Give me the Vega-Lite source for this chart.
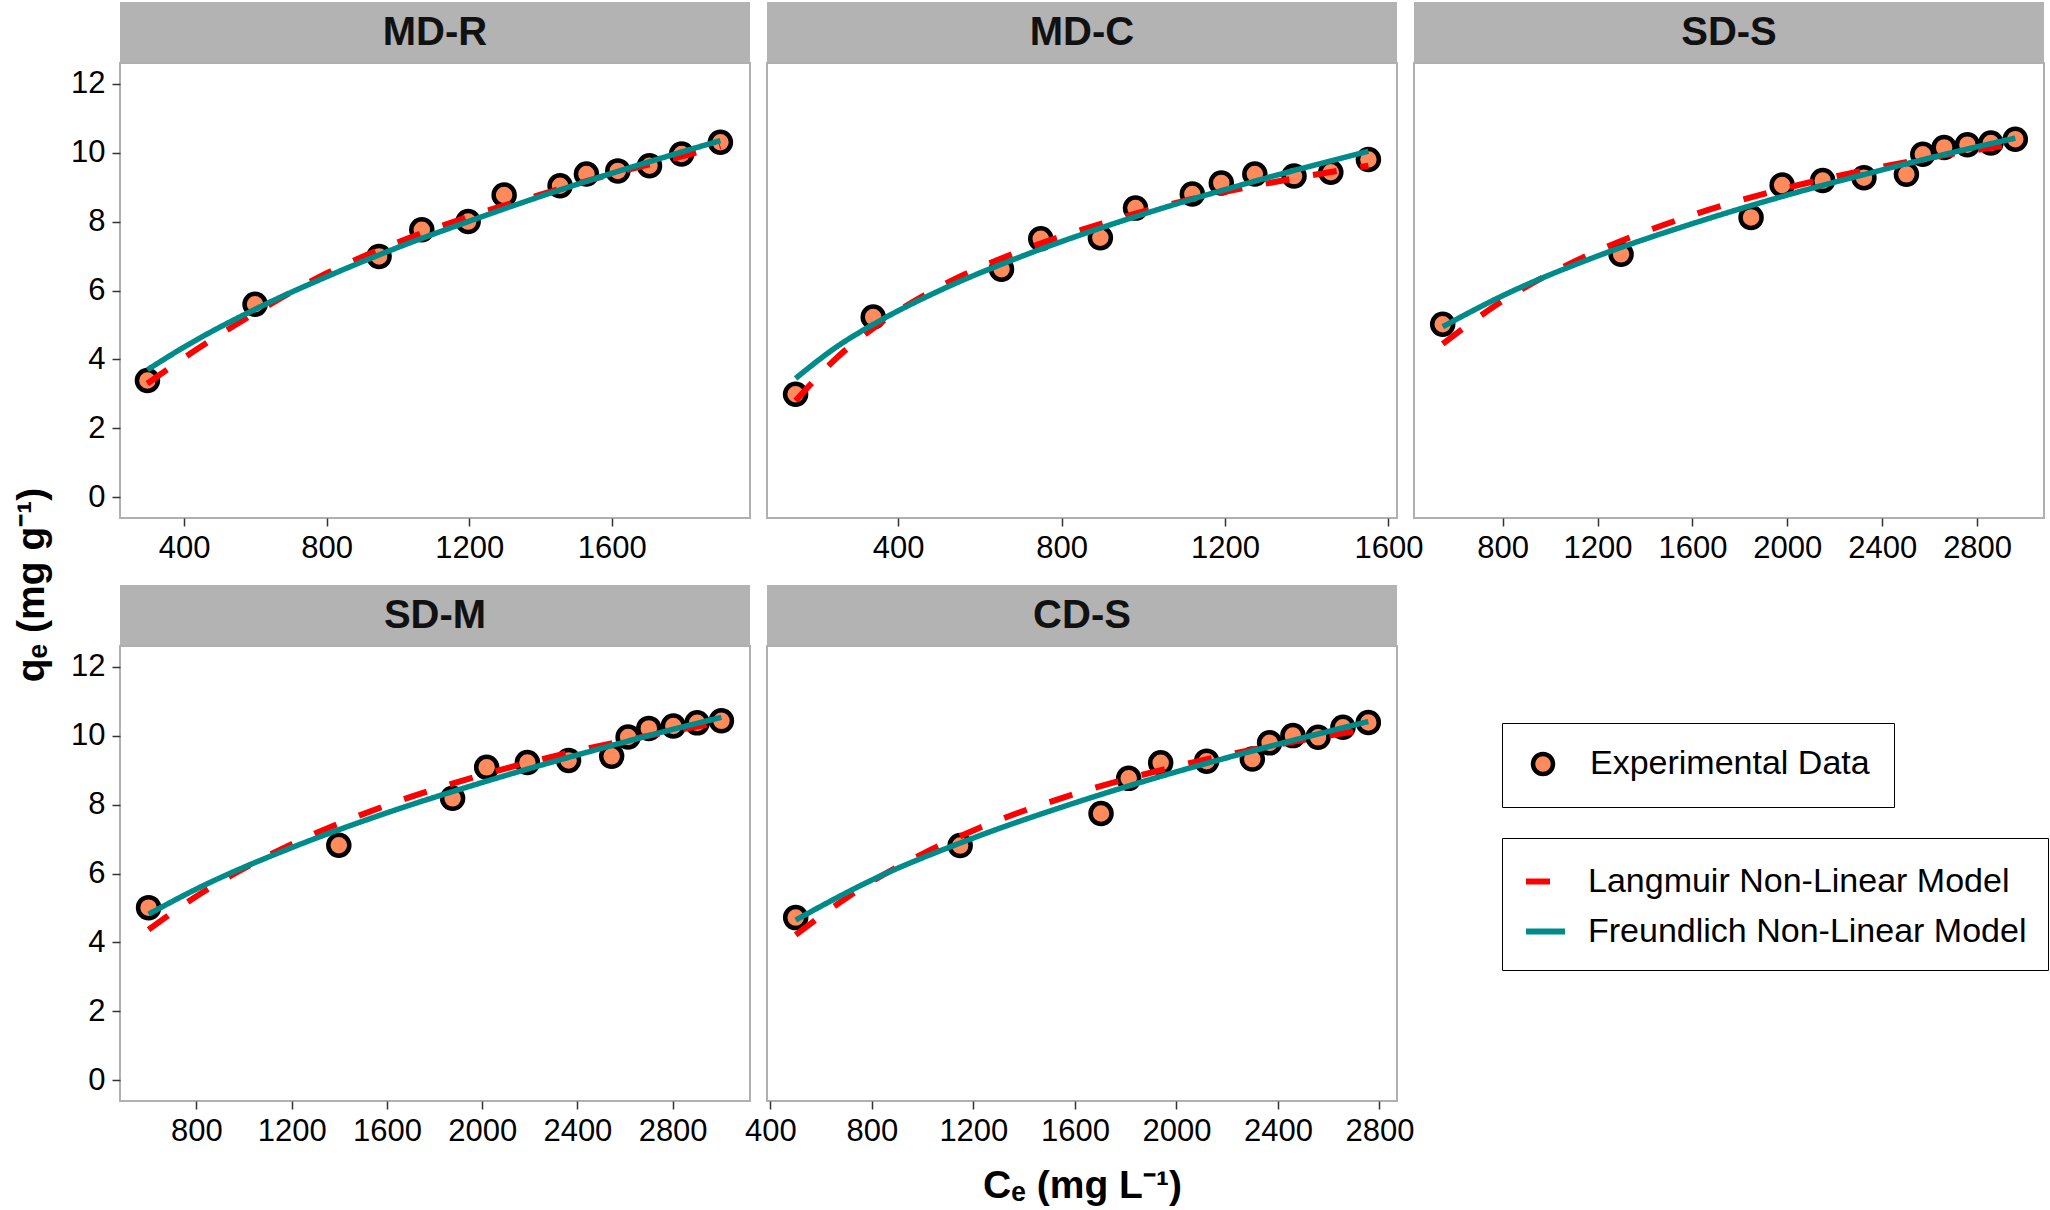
{
  "$schema": "https://vega.github.io/schema/vega-lite/v6.json",
  "background": "white",
  "padding": {"left": 12, "top": 2, "right": 2, "bottom": 4},
  "title": {"text": "qₑ (mg g⁻¹)", "orient": "left", "anchor": "middle", "fontSize": 39, "fontWeight": "bold", "offset": 18, "dx": 19, "color": "black"},
  "datasets": {
    "strips": [{"panel": "MD-R"}, {"panel": "MD-C"}, {"panel": "SD-S"}, {"panel": "SD-M"}, {"panel": "CD-S"}],
    "pts": [
      {"panel": "MD-R", "series": "Experimental Data", "Ce": 297, "qe": 3.39},
      {"panel": "MD-R", "series": "Experimental Data", "Ce": 599, "qe": 5.60},
      {"panel": "MD-R", "series": "Experimental Data", "Ce": 947, "qe": 6.99},
      {"panel": "MD-R", "series": "Experimental Data", "Ce": 1067, "qe": 7.76},
      {"panel": "MD-R", "series": "Experimental Data", "Ce": 1197, "qe": 8.00},
      {"panel": "MD-R", "series": "Experimental Data", "Ce": 1298, "qe": 8.77},
      {"panel": "MD-R", "series": "Experimental Data", "Ce": 1455, "qe": 9.04},
      {"panel": "MD-R", "series": "Experimental Data", "Ce": 1529, "qe": 9.38},
      {"panel": "MD-R", "series": "Experimental Data", "Ce": 1617, "qe": 9.47},
      {"panel": "MD-R", "series": "Experimental Data", "Ce": 1706, "qe": 9.62},
      {"panel": "MD-R", "series": "Experimental Data", "Ce": 1796, "qe": 9.96},
      {"panel": "MD-R", "series": "Experimental Data", "Ce": 1905, "qe": 10.30},
      {"panel": "MD-C", "series": "Experimental Data", "Ce": 149, "qe": 2.99},
      {"panel": "MD-C", "series": "Experimental Data", "Ce": 339, "qe": 5.23},
      {"panel": "MD-C", "series": "Experimental Data", "Ce": 653, "qe": 6.62},
      {"panel": "MD-C", "series": "Experimental Data", "Ce": 749, "qe": 7.50},
      {"panel": "MD-C", "series": "Experimental Data", "Ce": 895, "qe": 7.53},
      {"panel": "MD-C", "series": "Experimental Data", "Ce": 981, "qe": 8.39},
      {"panel": "MD-C", "series": "Experimental Data", "Ce": 1120, "qe": 8.80},
      {"panel": "MD-C", "series": "Experimental Data", "Ce": 1191, "qe": 9.12},
      {"panel": "MD-C", "series": "Experimental Data", "Ce": 1273, "qe": 9.38},
      {"panel": "MD-C", "series": "Experimental Data", "Ce": 1369, "qe": 9.32},
      {"panel": "MD-C", "series": "Experimental Data", "Ce": 1459, "qe": 9.43},
      {"panel": "MD-C", "series": "Experimental Data", "Ce": 1551, "qe": 9.80},
      {"panel": "SD-S", "series": "Experimental Data", "Ce": 547, "qe": 5.02},
      {"panel": "SD-S", "series": "Experimental Data", "Ce": 1299, "qe": 7.05},
      {"panel": "SD-S", "series": "Experimental Data", "Ce": 1847, "qe": 8.12},
      {"panel": "SD-S", "series": "Experimental Data", "Ce": 1978, "qe": 9.06},
      {"panel": "SD-S", "series": "Experimental Data", "Ce": 2149, "qe": 9.19},
      {"panel": "SD-S", "series": "Experimental Data", "Ce": 2323, "qe": 9.27},
      {"panel": "SD-S", "series": "Experimental Data", "Ce": 2502, "qe": 9.37},
      {"panel": "SD-S", "series": "Experimental Data", "Ce": 2571, "qe": 9.95},
      {"panel": "SD-S", "series": "Experimental Data", "Ce": 2661, "qe": 10.15},
      {"panel": "SD-S", "series": "Experimental Data", "Ce": 2759, "qe": 10.23},
      {"panel": "SD-S", "series": "Experimental Data", "Ce": 2858, "qe": 10.28},
      {"panel": "SD-S", "series": "Experimental Data", "Ce": 2961, "qe": 10.39},
      {"panel": "SD-M", "series": "Experimental Data", "Ce": 599, "qe": 5.01},
      {"panel": "SD-M", "series": "Experimental Data", "Ce": 1398, "qe": 6.82},
      {"panel": "SD-M", "series": "Experimental Data", "Ce": 1876, "qe": 8.18},
      {"panel": "SD-M", "series": "Experimental Data", "Ce": 2019, "qe": 9.08},
      {"panel": "SD-M", "series": "Experimental Data", "Ce": 2190, "qe": 9.22},
      {"panel": "SD-M", "series": "Experimental Data", "Ce": 2363, "qe": 9.28},
      {"panel": "SD-M", "series": "Experimental Data", "Ce": 2544, "qe": 9.40},
      {"panel": "SD-M", "series": "Experimental Data", "Ce": 2613, "qe": 9.96},
      {"panel": "SD-M", "series": "Experimental Data", "Ce": 2700, "qe": 10.21},
      {"panel": "SD-M", "series": "Experimental Data", "Ce": 2803, "qe": 10.28},
      {"panel": "SD-M", "series": "Experimental Data", "Ce": 2903, "qe": 10.37},
      {"panel": "SD-M", "series": "Experimental Data", "Ce": 3005, "qe": 10.43},
      {"panel": "CD-S", "series": "Experimental Data", "Ce": 500, "qe": 4.72},
      {"panel": "CD-S", "series": "Experimental Data", "Ce": 1148, "qe": 6.81},
      {"panel": "CD-S", "series": "Experimental Data", "Ce": 1703, "qe": 7.74},
      {"panel": "CD-S", "series": "Experimental Data", "Ce": 1812, "qe": 8.76},
      {"panel": "CD-S", "series": "Experimental Data", "Ce": 1938, "qe": 9.21},
      {"panel": "CD-S", "series": "Experimental Data", "Ce": 2119, "qe": 9.26},
      {"panel": "CD-S", "series": "Experimental Data", "Ce": 2299, "qe": 9.32},
      {"panel": "CD-S", "series": "Experimental Data", "Ce": 2367, "qe": 9.79},
      {"panel": "CD-S", "series": "Experimental Data", "Ce": 2459, "qe": 10.00},
      {"panel": "CD-S", "series": "Experimental Data", "Ce": 2558, "qe": 9.95},
      {"panel": "CD-S", "series": "Experimental Data", "Ce": 2656, "qe": 10.24},
      {"panel": "CD-S", "series": "Experimental Data", "Ce": 2756, "qe": 10.38}
    ],
    "fits": [
      {"panel": "MD-R", "model": "Langmuir Non-Linear Model", "Ce": 297, "qe": 3.30},
      {"panel": "MD-R", "model": "Langmuir Non-Linear Model", "Ce": 400, "qe": 4.05},
      {"panel": "MD-R", "model": "Langmuir Non-Linear Model", "Ce": 600, "qe": 5.35},
      {"panel": "MD-R", "model": "Langmuir Non-Linear Model", "Ce": 800, "qe": 6.50},
      {"panel": "MD-R", "model": "Langmuir Non-Linear Model", "Ce": 1000, "qe": 7.40},
      {"panel": "MD-R", "model": "Langmuir Non-Linear Model", "Ce": 1200, "qe": 8.15},
      {"panel": "MD-R", "model": "Langmuir Non-Linear Model", "Ce": 1400, "qe": 8.78},
      {"panel": "MD-R", "model": "Langmuir Non-Linear Model", "Ce": 1600, "qe": 9.38},
      {"panel": "MD-R", "model": "Langmuir Non-Linear Model", "Ce": 1800, "qe": 9.90},
      {"panel": "MD-R", "model": "Langmuir Non-Linear Model", "Ce": 1905, "qe": 10.18},
      {"panel": "MD-R", "model": "Freundlich Non-Linear Model", "Ce": 297, "qe": 3.70},
      {"panel": "MD-R", "model": "Freundlich Non-Linear Model", "Ce": 400, "qe": 4.36},
      {"panel": "MD-R", "model": "Freundlich Non-Linear Model", "Ce": 600, "qe": 5.46},
      {"panel": "MD-R", "model": "Freundlich Non-Linear Model", "Ce": 800, "qe": 6.40},
      {"panel": "MD-R", "model": "Freundlich Non-Linear Model", "Ce": 1000, "qe": 7.25},
      {"panel": "MD-R", "model": "Freundlich Non-Linear Model", "Ce": 1200, "qe": 8.01},
      {"panel": "MD-R", "model": "Freundlich Non-Linear Model", "Ce": 1400, "qe": 8.73},
      {"panel": "MD-R", "model": "Freundlich Non-Linear Model", "Ce": 1600, "qe": 9.40},
      {"panel": "MD-R", "model": "Freundlich Non-Linear Model", "Ce": 1800, "qe": 10.03},
      {"panel": "MD-R", "model": "Freundlich Non-Linear Model", "Ce": 1905, "qe": 10.35},
      {"panel": "MD-C", "model": "Langmuir Non-Linear Model", "Ce": 149, "qe": 2.80},
      {"panel": "MD-C", "model": "Langmuir Non-Linear Model", "Ce": 250, "qe": 4.05},
      {"panel": "MD-C", "model": "Langmuir Non-Linear Model", "Ce": 350, "qe": 5.00},
      {"panel": "MD-C", "model": "Langmuir Non-Linear Model", "Ce": 500, "qe": 6.10},
      {"panel": "MD-C", "model": "Langmuir Non-Linear Model", "Ce": 700, "qe": 7.15},
      {"panel": "MD-C", "model": "Langmuir Non-Linear Model", "Ce": 900, "qe": 7.95},
      {"panel": "MD-C", "model": "Langmuir Non-Linear Model", "Ce": 1100, "qe": 8.60},
      {"panel": "MD-C", "model": "Langmuir Non-Linear Model", "Ce": 1300, "qe": 9.10},
      {"panel": "MD-C", "model": "Langmuir Non-Linear Model", "Ce": 1551, "qe": 9.62},
      {"panel": "MD-C", "model": "Freundlich Non-Linear Model", "Ce": 149, "qe": 3.45},
      {"panel": "MD-C", "model": "Freundlich Non-Linear Model", "Ce": 250, "qe": 4.37},
      {"panel": "MD-C", "model": "Freundlich Non-Linear Model", "Ce": 350, "qe": 5.09},
      {"panel": "MD-C", "model": "Freundlich Non-Linear Model", "Ce": 500, "qe": 5.99},
      {"panel": "MD-C", "model": "Freundlich Non-Linear Model", "Ce": 700, "qe": 6.98},
      {"panel": "MD-C", "model": "Freundlich Non-Linear Model", "Ce": 900, "qe": 7.83},
      {"panel": "MD-C", "model": "Freundlich Non-Linear Model", "Ce": 1100, "qe": 8.58},
      {"panel": "MD-C", "model": "Freundlich Non-Linear Model", "Ce": 1300, "qe": 9.26},
      {"panel": "MD-C", "model": "Freundlich Non-Linear Model", "Ce": 1551, "qe": 10.04},
      {"panel": "SD-S", "model": "Langmuir Non-Linear Model", "Ce": 547, "qe": 4.45},
      {"panel": "SD-S", "model": "Langmuir Non-Linear Model", "Ce": 800, "qe": 5.70},
      {"panel": "SD-S", "model": "Langmuir Non-Linear Model", "Ce": 1000, "qe": 6.49},
      {"panel": "SD-S", "model": "Langmuir Non-Linear Model", "Ce": 1200, "qe": 7.15},
      {"panel": "SD-S", "model": "Langmuir Non-Linear Model", "Ce": 1600, "qe": 8.19},
      {"panel": "SD-S", "model": "Langmuir Non-Linear Model", "Ce": 2000, "qe": 8.98},
      {"panel": "SD-S", "model": "Langmuir Non-Linear Model", "Ce": 2400, "qe": 9.59},
      {"panel": "SD-S", "model": "Langmuir Non-Linear Model", "Ce": 2800, "qe": 10.08},
      {"panel": "SD-S", "model": "Langmuir Non-Linear Model", "Ce": 2961, "qe": 10.25},
      {"panel": "SD-S", "model": "Freundlich Non-Linear Model", "Ce": 547, "qe": 4.95},
      {"panel": "SD-S", "model": "Freundlich Non-Linear Model", "Ce": 800, "qe": 5.85},
      {"panel": "SD-S", "model": "Freundlich Non-Linear Model", "Ce": 1200, "qe": 7.00},
      {"panel": "SD-S", "model": "Freundlich Non-Linear Model", "Ce": 1600, "qe": 7.94},
      {"panel": "SD-S", "model": "Freundlich Non-Linear Model", "Ce": 2000, "qe": 8.77},
      {"panel": "SD-S", "model": "Freundlich Non-Linear Model", "Ce": 2400, "qe": 9.50},
      {"panel": "SD-S", "model": "Freundlich Non-Linear Model", "Ce": 2800, "qe": 10.17},
      {"panel": "SD-S", "model": "Freundlich Non-Linear Model", "Ce": 2961, "qe": 10.42},
      {"panel": "SD-M", "model": "Langmuir Non-Linear Model", "Ce": 599, "qe": 4.37},
      {"panel": "SD-M", "model": "Langmuir Non-Linear Model", "Ce": 800, "qe": 5.34},
      {"panel": "SD-M", "model": "Langmuir Non-Linear Model", "Ce": 1000, "qe": 6.15},
      {"panel": "SD-M", "model": "Langmuir Non-Linear Model", "Ce": 1200, "qe": 6.85},
      {"panel": "SD-M", "model": "Langmuir Non-Linear Model", "Ce": 1600, "qe": 7.98},
      {"panel": "SD-M", "model": "Langmuir Non-Linear Model", "Ce": 2000, "qe": 8.86},
      {"panel": "SD-M", "model": "Langmuir Non-Linear Model", "Ce": 2400, "qe": 9.56},
      {"panel": "SD-M", "model": "Langmuir Non-Linear Model", "Ce": 2800, "qe": 10.13},
      {"panel": "SD-M", "model": "Langmuir Non-Linear Model", "Ce": 3005, "qe": 10.39},
      {"panel": "SD-M", "model": "Freundlich Non-Linear Model", "Ce": 599, "qe": 4.82},
      {"panel": "SD-M", "model": "Freundlich Non-Linear Model", "Ce": 800, "qe": 5.55},
      {"panel": "SD-M", "model": "Freundlich Non-Linear Model", "Ce": 1200, "qe": 6.75},
      {"panel": "SD-M", "model": "Freundlich Non-Linear Model", "Ce": 1600, "qe": 7.76},
      {"panel": "SD-M", "model": "Freundlich Non-Linear Model", "Ce": 2000, "qe": 8.64},
      {"panel": "SD-M", "model": "Freundlich Non-Linear Model", "Ce": 2400, "qe": 9.44},
      {"panel": "SD-M", "model": "Freundlich Non-Linear Model", "Ce": 2800, "qe": 10.18},
      {"panel": "SD-M", "model": "Freundlich Non-Linear Model", "Ce": 3005, "qe": 10.53},
      {"panel": "CD-S", "model": "Langmuir Non-Linear Model", "Ce": 500, "qe": 4.22},
      {"panel": "CD-S", "model": "Langmuir Non-Linear Model", "Ce": 800, "qe": 5.77},
      {"panel": "CD-S", "model": "Langmuir Non-Linear Model", "Ce": 1000, "qe": 6.57},
      {"panel": "CD-S", "model": "Langmuir Non-Linear Model", "Ce": 1200, "qe": 7.25},
      {"panel": "CD-S", "model": "Langmuir Non-Linear Model", "Ce": 1600, "qe": 8.31},
      {"panel": "CD-S", "model": "Langmuir Non-Linear Model", "Ce": 2000, "qe": 9.11},
      {"panel": "CD-S", "model": "Langmuir Non-Linear Model", "Ce": 2400, "qe": 9.74},
      {"panel": "CD-S", "model": "Langmuir Non-Linear Model", "Ce": 2756, "qe": 10.19},
      {"panel": "CD-S", "model": "Freundlich Non-Linear Model", "Ce": 500, "qe": 4.65},
      {"panel": "CD-S", "model": "Freundlich Non-Linear Model", "Ce": 800, "qe": 5.81},
      {"panel": "CD-S", "model": "Freundlich Non-Linear Model", "Ce": 1200, "qe": 7.03},
      {"panel": "CD-S", "model": "Freundlich Non-Linear Model", "Ce": 1600, "qe": 8.05},
      {"panel": "CD-S", "model": "Freundlich Non-Linear Model", "Ce": 2000, "qe": 8.95},
      {"panel": "CD-S", "model": "Freundlich Non-Linear Model", "Ce": 2400, "qe": 9.75},
      {"panel": "CD-S", "model": "Freundlich Non-Linear Model", "Ce": 2756, "qe": 10.41}
    ]
  },
  "columns": 3,
  "spacing": {"row": 0, "column": 17},
  "bounds": "flush",
  "concat": [
    {"width": 630, "height": 61, "view": {"fill": "#B3B3B3", "stroke": null}, "data": {"name": "strips"}, "transform": [{"filter": "datum.panel === 'MD-R'"}], "mark": {"type": "text", "fontSize": 40, "fontWeight": "bold", "color": "#111111"}, "encoding": {"text": {"field": "panel"}}},
    {"width": 630, "height": 61, "view": {"fill": "#B3B3B3", "stroke": null}, "data": {"name": "strips"}, "transform": [{"filter": "datum.panel === 'MD-C'"}], "mark": {"type": "text", "fontSize": 40, "fontWeight": "bold", "color": "#111111"}, "encoding": {"text": {"field": "panel"}}},
    {"width": 630, "height": 61, "view": {"fill": "#B3B3B3", "stroke": null}, "data": {"name": "strips"}, "transform": [{"filter": "datum.panel === 'SD-S'"}], "mark": {"type": "text", "fontSize": 40, "fontWeight": "bold", "color": "#111111"}, "encoding": {"text": {"field": "panel"}}},
    {
      "width": 630, "height": 455, "view": {"stroke": "#B0B0B0", "strokeWidth": 2},
      "encoding": {
        "x": {"field": "Ce", "type": "quantitative", "scale": {"domain": [220, 1988], "nice": false, "zero": false}, "axis": {"values": [400, 800, 1200, 1600], "format": "d", "title": null}},
        "y": {"field": "qe", "type": "quantitative", "scale": {"domain": [-0.6, 12.6], "nice": false, "zero": false}, "axis": {"values": [0, 2, 4, 6, 8, 10, 12], "title": null}}
      },
      "layer": [
        {"data": {"name": "pts"}, "transform": [{"filter": "datum.panel === 'MD-R'"}], "mark": {"type": "point", "filled": true, "size": 441, "stroke": "black", "strokeWidth": 4.5, "opacity": 1}, "encoding": {"fill": {"field": "series", "type": "nominal", "scale": {"domain": ["Experimental Data"], "range": ["#FF8A5C"]}, "legend": {"orient": "none", "legendX": 1382, "legendY": 721, "title": null, "symbolType": "circle", "symbolSize": 400, "symbolStrokeColor": "black", "symbolStrokeWidth": 4.5, "labelFontSize": 34, "labelOffset": 30, "padding": 24, "strokeColor": "black", "labelColor": "black"}}}},
        {"data": {"name": "fits"}, "transform": [{"filter": "datum.panel === 'MD-R' && datum.model === 'Langmuir Non-Linear Model'"}], "mark": {"type": "line", "strokeWidth": 6, "interpolate": "monotone"}, "encoding": {"color": {"field": "model", "type": "nominal", "scale": {"domain": ["Langmuir Non-Linear Model", "Freundlich Non-Linear Model"], "range": ["#FF0000", "#008B8B"]}, "legend": {"orient": "none", "legendX": 1382, "legendY": 836, "title": null, "symbolType": "stroke", "symbolSize": 1521, "symbolStrokeWidth": 6, "labelFontSize": 34, "labelOffset": 20, "padding": 21, "rowPadding": 10, "strokeColor": "black", "labelColor": "black"}}, "strokeDash": {"field": "model", "type": "nominal", "scale": {"domain": ["Langmuir Non-Linear Model", "Freundlich Non-Linear Model"], "range": [[24, 24], [1, 0]]}, "legend": {"orient": "none", "legendX": 1382, "legendY": 836, "title": null, "symbolType": "stroke", "symbolSize": 1521, "symbolStrokeWidth": 6, "labelFontSize": 34, "labelOffset": 20, "padding": 21, "rowPadding": 10, "strokeColor": "black", "labelColor": "black"}}}},
        {"data": {"name": "fits"}, "transform": [{"filter": "datum.panel === 'MD-R' && datum.model === 'Freundlich Non-Linear Model'"}], "mark": {"type": "line", "strokeWidth": 5.5, "interpolate": "monotone"}, "encoding": {"color": {"field": "model", "type": "nominal"}, "strokeDash": {"field": "model", "type": "nominal"}}}
      ]
    },
    {
      "width": 630, "height": 455, "view": {"stroke": "#B0B0B0", "strokeWidth": 2},
      "encoding": {
        "x": {"field": "Ce", "type": "quantitative", "scale": {"domain": [79, 1621], "nice": false, "zero": false}, "axis": {"values": [400, 800, 1200, 1600], "format": "d", "title": null}},
        "y": {"field": "qe", "type": "quantitative", "scale": {"domain": [-0.6, 12.6], "nice": false, "zero": false}, "axis": null}
      },
      "layer": [
        {"data": {"name": "pts"}, "transform": [{"filter": "datum.panel === 'MD-C'"}], "mark": {"type": "point", "filled": true, "size": 441, "stroke": "black", "strokeWidth": 4.5, "opacity": 1}, "encoding": {"fill": {"field": "series", "type": "nominal"}}},
        {"data": {"name": "fits"}, "transform": [{"filter": "datum.panel === 'MD-C' && datum.model === 'Langmuir Non-Linear Model'"}], "mark": {"type": "line", "strokeWidth": 6, "interpolate": "monotone"}, "encoding": {"color": {"field": "model", "type": "nominal"}, "strokeDash": {"field": "model", "type": "nominal"}}},
        {"data": {"name": "fits"}, "transform": [{"filter": "datum.panel === 'MD-C' && datum.model === 'Freundlich Non-Linear Model'"}], "mark": {"type": "line", "strokeWidth": 5.5, "interpolate": "monotone"}, "encoding": {"color": {"field": "model", "type": "nominal"}, "strokeDash": {"field": "model", "type": "nominal"}}}
      ]
    },
    {
      "width": 630, "height": 455, "view": {"stroke": "#B0B0B0", "strokeWidth": 2},
      "encoding": {
        "x": {"field": "Ce", "type": "quantitative", "scale": {"domain": [426, 3082], "nice": false, "zero": false}, "axis": {"values": [800, 1200, 1600, 2000, 2400, 2800], "format": "d", "title": null}},
        "y": {"field": "qe", "type": "quantitative", "scale": {"domain": [-0.6, 12.6], "nice": false, "zero": false}, "axis": null}
      },
      "layer": [
        {"data": {"name": "pts"}, "transform": [{"filter": "datum.panel === 'SD-S'"}], "mark": {"type": "point", "filled": true, "size": 441, "stroke": "black", "strokeWidth": 4.5, "opacity": 1}, "encoding": {"fill": {"field": "series", "type": "nominal"}}},
        {"data": {"name": "fits"}, "transform": [{"filter": "datum.panel === 'SD-S' && datum.model === 'Langmuir Non-Linear Model'"}], "mark": {"type": "line", "strokeWidth": 6, "interpolate": "monotone"}, "encoding": {"color": {"field": "model", "type": "nominal"}, "strokeDash": {"field": "model", "type": "nominal"}}},
        {"data": {"name": "fits"}, "transform": [{"filter": "datum.panel === 'SD-S' && datum.model === 'Freundlich Non-Linear Model'"}], "mark": {"type": "line", "strokeWidth": 5.5, "interpolate": "monotone"}, "encoding": {"color": {"field": "model", "type": "nominal"}, "strokeDash": {"field": "model", "type": "nominal"}}}
      ]
    },
    {"width": 630, "height": 67, "view": {"stroke": null}, "data": {"values": [{}]}, "mark": {"type": "text", "text": " "}, "encoding": {}},
    {"width": 630, "height": 67, "view": {"stroke": null}, "data": {"values": [{}]}, "mark": {"type": "text", "text": " "}, "encoding": {}},
    {"width": 630, "height": 67, "view": {"stroke": null}, "data": {"values": [{}]}, "mark": {"type": "text", "text": " "}, "encoding": {}},
    {"width": 630, "height": 61, "view": {"fill": "#B3B3B3", "stroke": null}, "data": {"name": "strips"}, "transform": [{"filter": "datum.panel === 'SD-M'"}], "mark": {"type": "text", "fontSize": 40, "fontWeight": "bold", "color": "#111111"}, "encoding": {"text": {"field": "panel"}}},
    {"width": 630, "height": 61, "view": {"fill": "#B3B3B3", "stroke": null}, "data": {"name": "strips"}, "transform": [{"filter": "datum.panel === 'CD-S'"}], "mark": {"type": "text", "fontSize": 40, "fontWeight": "bold", "color": "#111111"}, "encoding": {"text": {"field": "panel"}}},
    {"width": 630, "height": 61, "view": {"stroke": null}, "data": {"values": [{}]}, "mark": {"type": "text", "text": " "}, "encoding": {}},
    {
      "width": 630, "height": 455, "view": {"stroke": "#B0B0B0", "strokeWidth": 2},
      "encoding": {
        "x": {"field": "Ce", "type": "quantitative", "scale": {"domain": [479, 3125], "nice": false, "zero": false}, "axis": {"values": [800, 1200, 1600, 2000, 2400, 2800], "format": "d", "title": null}},
        "y": {"field": "qe", "type": "quantitative", "scale": {"domain": [-0.6, 12.6], "nice": false, "zero": false}, "axis": {"values": [0, 2, 4, 6, 8, 10, 12], "title": null}}
      },
      "layer": [
        {"data": {"name": "pts"}, "transform": [{"filter": "datum.panel === 'SD-M'"}], "mark": {"type": "point", "filled": true, "size": 441, "stroke": "black", "strokeWidth": 4.5, "opacity": 1}, "encoding": {"fill": {"field": "series", "type": "nominal"}}},
        {"data": {"name": "fits"}, "transform": [{"filter": "datum.panel === 'SD-M' && datum.model === 'Langmuir Non-Linear Model'"}], "mark": {"type": "line", "strokeWidth": 6, "interpolate": "monotone"}, "encoding": {"color": {"field": "model", "type": "nominal"}, "strokeDash": {"field": "model", "type": "nominal"}}},
        {"data": {"name": "fits"}, "transform": [{"filter": "datum.panel === 'SD-M' && datum.model === 'Freundlich Non-Linear Model'"}], "mark": {"type": "line", "strokeWidth": 5.5, "interpolate": "monotone"}, "encoding": {"color": {"field": "model", "type": "nominal"}, "strokeDash": {"field": "model", "type": "nominal"}}}
      ]
    },
    {
      "width": 630, "height": 455, "view": {"stroke": "#B0B0B0", "strokeWidth": 2},
      "encoding": {
        "x": {"field": "Ce", "type": "quantitative", "scale": {"domain": [387, 2869], "nice": false, "zero": false}, "axis": {"values": [400, 800, 1200, 1600, 2000, 2400, 2800], "format": "d", "title": "Cₑ (mg L⁻¹)", "titlePadding": 20}},
        "y": {"field": "qe", "type": "quantitative", "scale": {"domain": [-0.6, 12.6], "nice": false, "zero": false}, "axis": null}
      },
      "layer": [
        {"data": {"name": "pts"}, "transform": [{"filter": "datum.panel === 'CD-S'"}], "mark": {"type": "point", "filled": true, "size": 441, "stroke": "black", "strokeWidth": 4.5, "opacity": 1}, "encoding": {"fill": {"field": "series", "type": "nominal"}}},
        {"data": {"name": "fits"}, "transform": [{"filter": "datum.panel === 'CD-S' && datum.model === 'Langmuir Non-Linear Model'"}], "mark": {"type": "line", "strokeWidth": 6, "interpolate": "monotone"}, "encoding": {"color": {"field": "model", "type": "nominal"}, "strokeDash": {"field": "model", "type": "nominal"}}},
        {"data": {"name": "fits"}, "transform": [{"filter": "datum.panel === 'CD-S' && datum.model === 'Freundlich Non-Linear Model'"}], "mark": {"type": "line", "strokeWidth": 5.5, "interpolate": "monotone"}, "encoding": {"color": {"field": "model", "type": "nominal"}, "strokeDash": {"field": "model", "type": "nominal"}}}
      ]
    },
    {"width": 630, "height": 455, "view": {"stroke": null}, "data": {"values": [{}]}, "mark": {"type": "text", "text": " "}, "encoding": {}}
  ],
  "config": {
    "font": "Liberation Sans",
    "axis": {"grid": false, "domain": false, "labelFontSize": 31, "labelColor": "black", "labelFont": "Liberation Sans", "tickColor": "#333333", "tickSize": 8, "tickWidth": 1.5, "labelPadding": 7, "titleFontSize": 39, "titleFontWeight": "bold", "titleColor": "black", "titleFont": "Liberation Sans"},
    "legend": {"labelFont": "Liberation Sans", "labelLimit": 1000}
  }
}
